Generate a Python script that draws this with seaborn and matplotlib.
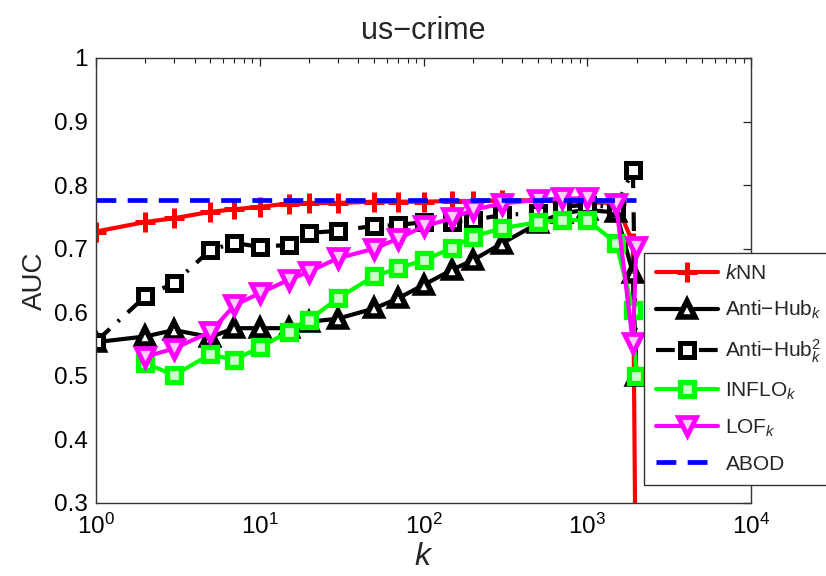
import numpy as np
import pandas as pd
import matplotlib
matplotlib.use("Agg")
import matplotlib.pyplot as plt
import seaborn as sns
from matplotlib.ticker import FixedLocator, LogLocator, NullFormatter

# Neighbourhood sizes evaluated
k_from1 = [1, 2, 3, 5, 7, 10, 15, 20, 30, 50, 70, 100, 150, 200, 300, 500, 700, 1000, 1500, 1900, 1993]
k_from2 = [2, 3, 5, 7, 10, 15, 20, 30, 50, 70, 100, 150, 200, 300, 500, 700, 1000, 1500, 1900, 1993]

# AUC per method
auc_knn = [0.727, 0.742, 0.748, 0.758, 0.762, 0.766, 0.771, 0.772, 0.772, 0.774, 0.774,
           0.774, 0.775, 0.775, 0.776, 0.776, 0.775, 0.773, 0.772, 0.709, 0.05]
auc_antihub = [0.553, 0.562, 0.572, 0.561, 0.575, 0.575, 0.575, 0.585, 0.590, 0.606, 0.622,
               0.643, 0.667, 0.682, 0.708, 0.740, 0.756, 0.761, 0.757, 0.662, 0.500]
auc_antihub2 = [0.554, 0.625, 0.646, 0.698, 0.709, 0.703, 0.706, 0.725, 0.728, 0.736, 0.737,
                0.742, 0.742, 0.745, 0.753, 0.756, 0.766, 0.769, 0.765, 0.824, 0.500]
auc_inflo = [0.520, 0.501, 0.534, 0.525, 0.545, 0.569, 0.588, 0.622, 0.657, 0.669,
             0.682, 0.701, 0.719, 0.732, 0.742, 0.745, 0.745, 0.709, 0.604, 0.500]
auc_lof = [0.530, 0.543, 0.569, 0.611, 0.630, 0.651, 0.664, 0.685, 0.700, 0.716,
           0.735, 0.748, 0.761, 0.771, 0.777, 0.779, 0.779, 0.771, 0.552, 0.703]
auc_abod = 0.777

y_ticks = [0.3, 0.4, 0.5, 0.6, 0.7, 0.8, 0.9, 1.0]
y_tick_labels = ["0.3", "0.4", "0.5", "0.6", "0.7", "0.8", "0.9", "1"]
x_ticks = [1, 10, 100, 1000, 10000]
x_tick_labels = [r"$10^0$", r"$10^1$", r"$10^2$", r"$10^3$", r"$10^4$"]

sns.set_theme(style="white")
plt.rcParams["font.family"] = ["Liberation Sans", "DejaVu Sans"]
plt.rcParams["mathtext.fontset"] = "custom"
plt.rcParams["mathtext.rm"] = "Liberation Sans"
plt.rcParams["mathtext.it"] = "Liberation Sans:italic"
plt.rcParams["mathtext.bf"] = "Liberation Sans:bold"

fig = plt.figure(figsize=(8.26, 5.76), dpi=100)
ax = fig.add_axes([96 / 826, 1 - 503 / 576, 655 / 826, 445 / 576])

series = [
    dict(x=k_from1, y=auc_knn, color=(1, 0, 0), marker="+", ms=15, mew=3.6,
         mfc=(1, 0, 0), ls="-", label=r"$k$NN"),
    dict(x=k_from1, y=auc_antihub, color="black", marker="^", ms=12, mew=4.0,
         mfc="white", ls="-", label=r"Anti$-$Hub$_k$"),
    dict(x=k_from1, y=auc_antihub2, color="black", marker="s", ms=10, mew=3.6,
         mfc="white", ls=(0, (4.5, 2.6, 0.6, 2.6)), label=r"Anti$-$Hub$_k^2$"),
    dict(x=k_from2, y=auc_inflo, color=(0, 1, 0), marker="s", ms=10, mew=3.8,
         mfc=(0.8, 1, 0.8), ls="-", label=r"INFLO$_k$"),
    dict(x=k_from2, y=auc_lof, color=(1, 0, 1), marker="v", ms=13, mew=3.4,
         mfc=(1, 0.8, 1), ls="-", label=r"LOF$_k$"),
]

for s in series:
    sns.lineplot(x=s["x"], y=s["y"], ax=ax, sort=False, estimator=None,
                 color=s["color"], linewidth=3, linestyle=s["ls"],
                 marker=s["marker"], markersize=s["ms"], markeredgewidth=s["mew"],
                 markeredgecolor=s["color"], markerfacecolor=s["mfc"],
                 label=s["label"], clip_on=True)

sns.lineplot(x=[k_from1[0], k_from1[-1]], y=[auc_abod, auc_abod], ax=ax,
             color=(0, 0, 1), linewidth=3.4, linestyle=(0, (4.2, 2.4)),
             label="ABOD")

ax.set_xscale("log")
ax.set_xlim(1, 10000)
ax.set_ylim(0.3, 1.0)
ax.xaxis.set_major_locator(FixedLocator(x_ticks))
ax.set_xticklabels(x_tick_labels)
ax.xaxis.set_minor_locator(LogLocator(base=10, subs=np.arange(2, 10), numticks=20))
ax.xaxis.set_minor_formatter(NullFormatter())
ax.set_yticks(y_ticks)
ax.set_yticklabels(y_tick_labels)

ax.tick_params(which="both", direction="in", top=True, right=True,
               colors="#222222", labelcolor="black")
ax.tick_params(which="major", length=6, width=0.9, labelsize=17.5, pad=6)
ax.tick_params(which="minor", length=3.5, width=0.8)
ax.tick_params(axis="x", which="major", pad=8)
for sp in ax.spines.values():
    sp.set_color("#333333")
    sp.set_linewidth(1.0)

ax.set_title("us\u2212crime", fontsize=22, pad=14)
ax.set_xlabel(r"$k$", fontsize=23, labelpad=2)
ax.set_ylabel("AUC", fontsize=20, labelpad=4)

leg = ax.legend(loc="lower left", bbox_to_anchor=(0.837, 0.04), borderaxespad=0,
                fontsize=15, handlelength=3.0, handletextpad=0.35, labelspacing=0.76,
                borderpad=0.55, frameon=True, fancybox=False, framealpha=1,
                edgecolor="#333333")
leg.get_frame().set_linewidth(1.0)

fig.savefig("out.png", dpi=100)
